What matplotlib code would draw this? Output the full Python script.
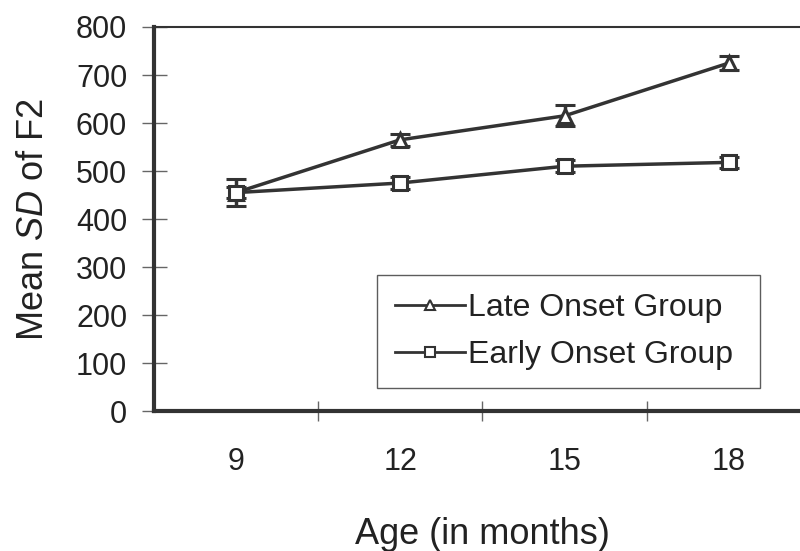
import matplotlib
matplotlib.use("Agg")
import matplotlib.pyplot as plt
from matplotlib.lines import Line2D

plt.rcParams['font.family'] = ['Liberation Sans', 'DejaVu Sans']
plt.rcParams['mathtext.fontset'] = 'custom'
plt.rcParams['mathtext.rm'] = 'Liberation Sans'
plt.rcParams['mathtext.it'] = 'Liberation Sans:italic'
plt.rcParams['text.color'] = '#222222'
plt.rcParams['axes.labelcolor'] = '#222222'
plt.rcParams['xtick.labelcolor'] = '#222222'
plt.rcParams['ytick.labelcolor'] = '#222222'

ages = ['9', '12', '15', '18']
late_mean = [455, 565, 615, 725]
late_err = [28, 12, 22, 15]
early_mean = [455, 475, 510, 518]
early_err = [12, 12, 12, 12]

dark = '#333333'
x = list(range(len(ages)))

fig = plt.figure(figsize=(8, 5.51), dpi=100)
ax = fig.add_axes([0.192, 0.254, 0.822, 0.697])

ax.errorbar(x, late_mean, yerr=late_err, color=dark, lw=2.5, marker='^',
            ms=10, mfc='white', mec=dark, mew=2.2, capsize=7, capthick=2.5,
            elinewidth=2.5)
ax.errorbar(x, early_mean, yerr=early_err, color=dark, lw=2.5, marker='s',
            ms=10, mfc='white', mec=dark, mew=2.2, capsize=7, capthick=2.5,
            elinewidth=2.5)

ax.set_xlim(-0.5, 3.5)
ax.set_ylim(0, 800)
ax.set_yticks(range(0, 801, 100))
ax.set_xticks(x)
ax.set_xticklabels(ages)
ax.set_xticks([0.5, 1.5, 2.5], minor=True)
ax.tick_params(axis='x', which='major', length=0, pad=26, labelsize=22)
ax.tick_params(axis='x', which='minor', length=14, direction='inout', width=1, color='#666666')
ax.tick_params(axis='y', length=18, width=1, direction='inout', labelsize=22, color='#666666', pad=10)

ax.spines['left'].set_linewidth(3)
ax.spines['bottom'].set_linewidth(3)
ax.spines['top'].set_linewidth(1.5)
for s in ax.spines.values():
    s.set_color(dark)
ax.spines['right'].set_visible(False)

ax.set_ylabel('Mean $\\mathit{SD}$ of F2', fontsize=26, labelpad=18)
ax.set_xlabel('Age (in months)', fontsize=26, labelpad=29)

handles = [
    Line2D([], [], color=dark, lw=2, marker='^', ms=7, mfc='white', mec=dark, mew=1.5),
    Line2D([], [], color=dark, lw=2, marker='s', ms=7, mfc='white', mec=dark, mew=1.5),
]
leg = ax.legend(handles, ['Late Onset Group ', 'Early Onset Group '],
                loc='lower left', bbox_to_anchor=(0.34, 0.06), fontsize=23,
                frameon=True, fancybox=False, edgecolor='#333333',
                handlelength=2.2, handletextpad=0.1, borderpad=0.55,
                labelspacing=0.55, borderaxespad=0)
leg.get_frame().set_linewidth(1)

fig.savefig('out.png', dpi=100)
